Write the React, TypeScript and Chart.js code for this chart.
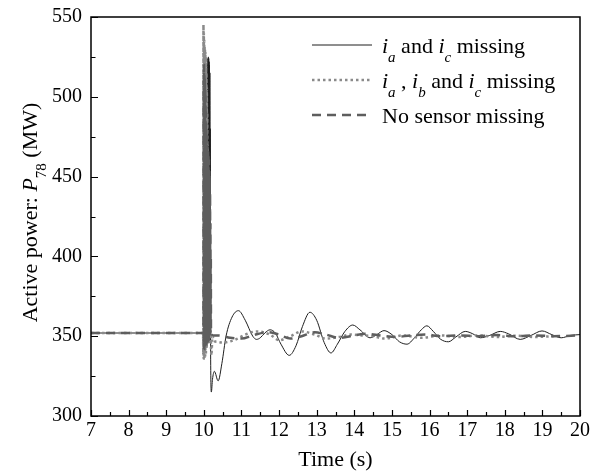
import React, { useEffect, useRef } from 'react';
import { Chart, registerables } from 'chart.js';

Chart.register(...registerables);

const FONT = '"Liberation Serif", "Times New Roman", serif';

// axis ranges / ticks
const xRange = [7, 20];
const xMajorStep = 1;
const xMinorStep = 0.5;
const yRange = [300, 550];
const yMajorStep = 50;
const yMinorStep = 25;

// Series 1: i_a and i_c missing (solid)
const tSolid = [7, 10.05, 10.06, 10.065, 10.07, 10.075, 10.08, 10.085, 10.09, 10.095, 10.1, 10.105, 10.11, 10.115, 10.12, 10.125, 10.13, 10.135, 10.14, 10.145, 10.15, 10.155, 10.16, 10.165, 10.17, 10.18, 10.2, 10.23, 10.28, 10.38, 10.48, 10.59, 10.75, 10.92, 11.1, 11.3, 11.4, 11.5, 11.62, 11.76, 11.9, 12.05, 12.27, 12.45, 12.62, 12.82, 13.0, 13.2, 13.38, 13.55, 13.75, 13.96, 14.15, 14.42, 14.6, 14.79, 15.0, 15.2, 15.4, 15.6, 15.78, 15.93, 16.1, 16.3, 16.5, 16.7, 16.95, 17.15, 17.35, 17.6, 17.88, 18.1, 18.41, 18.7, 18.99, 19.25, 19.5, 19.75, 20];
const pSolid = [352, 352, 380, 350, 470, 355, 500, 360, 515, 380, 520, 400, 524, 420, 525, 440, 524, 450, 522, 455, 520, 450, 515, 440, 480, 340, 315, 323, 328, 322, 333, 350, 362, 366, 360, 350, 348, 349, 352, 354, 352, 345, 338, 344, 356, 365, 360, 346, 339.5, 345, 353, 357, 354, 349, 351, 353.5, 351, 346.5, 345, 349, 354, 356.5, 353, 348, 346.5, 349.5, 353, 351.5, 349, 350.5, 353, 351.5, 348, 350.5, 353.3, 351, 349, 350.5, 351];

// Series 2: i_a, i_b and i_c missing (dotted)
const tDotted = [7, 9.98, 9.985, 9.99, 9.995, 10.0, 10.005, 10.01, 10.015, 10.02, 10.025, 10.03, 10.035, 10.04, 10.045, 10.05, 10.055, 10.06, 10.065, 10.07, 10.075, 10.08, 10.085, 10.09, 10.095, 10.1, 10.11, 10.12, 10.13, 10.15, 10.17, 10.2, 10.23, 10.27, 10.35, 10.5, 10.8, 11.1, 11.4, 11.76, 12.0, 12.3, 12.6, 12.95, 13.25, 13.6, 13.9, 14.2, 14.5, 14.8, 15.3, 15.8, 16.3, 16.8, 17.3, 17.8, 18.3, 18.8, 19.3, 20];
const pDotted = [352, 352, 338, 545, 336, 540, 338, 535, 336, 532, 340, 530, 338, 528, 342, 525, 340, 520, 345, 515, 342, 505, 348, 490, 345, 470, 440, 360, 400, 345, 362, 338, 350, 347, 346.5, 346, 347.5, 351, 353, 351, 347.5, 350, 353, 351, 348.5, 349.5, 351, 350.5, 350, 348.5, 350.5, 349, 350.5, 349.5, 350.5, 349.5, 350.3, 349.5, 350];

// Series 3: No sensor missing (dashed)
const tDashed = [7, 9.99, 9.995, 10.0, 10.005, 10.01, 10.015, 10.02, 10.025, 10.03, 10.035, 10.04, 10.045, 10.05, 10.055, 10.06, 10.065, 10.07, 10.075, 10.08, 10.085, 10.09, 10.095, 10.1, 10.105, 10.11, 10.115, 10.12, 10.125, 10.13, 10.135, 10.14, 10.145, 10.15, 10.155, 10.16, 10.165, 10.17, 10.175, 10.18, 10.185, 10.19, 10.2, 10.25, 10.4, 10.7, 11.0, 11.3, 11.7, 12.0, 12.3, 12.6, 12.95, 13.25, 13.6, 14.0, 14.3, 14.7, 15.1, 15.5, 15.9, 16.3, 16.8, 17.3, 17.8, 18.3, 18.8, 19.3, 20];
const pDashed = [352, 352, 510, 345, 520, 342, 515, 345, 512, 343, 505, 346, 500, 344, 490, 346, 480, 345, 475, 348, 470, 345, 468, 350, 466, 347, 465, 350, 462, 348, 460, 352, 455, 350, 450, 355, 440, 352, 420, 356, 400, 352, 351, 350.5, 350.5, 349, 348.5, 350.5, 352.5, 351, 348.5, 350, 352.5, 351, 349, 350.5, 351.5, 350.5, 349.5, 350.5, 351, 350, 350.5, 350, 350.7, 350, 350.5, 350, 350.5];

type Seg = { t: string; it?: boolean; sub?: boolean };

const seriesNames = ['i_a and i_c missing', 'i_a , i_b and i_c missing', 'No sensor missing'];
const legendRows: Seg[][] = [
  [{ t: 'i', it: true }, { t: 'a', it: true, sub: true }, { t: ' and ' }, { t: 'i', it: true }, { t: 'c', it: true, sub: true }, { t: ' missing' }],
  [{ t: 'i', it: true }, { t: 'a', it: true, sub: true }, { t: ' , ' }, { t: 'i', it: true }, { t: 'b', it: true, sub: true }, { t: ' and ' }, { t: 'i', it: true }, { t: 'c', it: true, sub: true }, { t: ' missing' }],
  [{ t: 'No sensor missing' }],
];
const yTitle: Seg[] = [{ t: 'Active power: ' }, { t: 'P', it: true }, { t: '78', sub: true }, { t: ' (MW)' }];
const xTitle = 'Time (s)';

const styles = [
  { color: '#1e1e1e', width: 1, dash: [] as number[] },
  { color: '#8a8a8a', width: 2.5, dash: [2.5, 3] },
  { color: '#5e5e5e', width: 2.5, dash: [9, 6] },
];

const toPoints = (t: number[], p: number[]) => t.map((x, i) => ({ x, y: p[i] }));

function segFont(s: Seg, size: number) {
  const sz = s.sub ? Math.round(size * 0.66) : size;
  return `${s.it ? 'italic ' : ''}${sz}px ${FONT}`;
}
function richWidth(ctx: CanvasRenderingContext2D, segs: Seg[], size: number) {
  let w = 0;
  for (const s of segs) { ctx.font = segFont(s, size); w += ctx.measureText(s.t).width; }
  return w;
}
function drawRich(ctx: CanvasRenderingContext2D, segs: Seg[], x: number, base: number, size: number) {
  ctx.textBaseline = 'alphabetic';
  ctx.textAlign = 'left';
  let cx = x;
  for (const s of segs) {
    ctx.font = segFont(s, size);
    ctx.fillText(s.t, cx, s.sub ? base + size * 0.4 : base);
    cx += ctx.measureText(s.t).width;
  }
}

const decorPlugin = {
  id: 'decor',
  afterDraw(chart: any) {
    const { ctx, chartArea, scales } = chart;
    const { left, right, top, bottom } = chartArea;
    const xs = scales.x, ys = scales.y;
    ctx.save();
    ctx.strokeStyle = '#000';
    ctx.fillStyle = '#000';
    ctx.lineWidth = 1.5;
    ctx.setLineDash([]);
    ctx.strokeRect(left, top, right - left, bottom - top);
    ctx.lineWidth = 1.2;
    ctx.beginPath();
    for (let v = xRange[0]; v <= xRange[1] + 1e-9; v += xMinorStep) {
      const px = Math.round(xs.getPixelForValue(v)) + 0.5;
      const major = Math.abs(v / xMajorStep - Math.round(v / xMajorStep)) < 1e-6;
      ctx.moveTo(px, bottom);
      ctx.lineTo(px, bottom - (major ? 6 : 4));
    }
    for (let v = yRange[0]; v <= yRange[1] + 1e-9; v += yMinorStep) {
      const py = Math.round(ys.getPixelForValue(v)) + 0.5;
      const major = Math.abs(v / yMajorStep - Math.round(v / yMajorStep)) < 1e-6;
      ctx.moveTo(left, py);
      ctx.lineTo(left + (major ? 7 : 4.5), py);
    }
    ctx.stroke();

    // x title
    ctx.font = `22px ${FONT}`;
    ctx.textAlign = 'center';
    ctx.textBaseline = 'alphabetic';
    ctx.fillText(xTitle, (left + right) / 2, 466);

    // y title
    ctx.save();
    ctx.translate(37, (top + bottom) / 2 - 4);
    ctx.rotate(-Math.PI / 2);
    const w = richWidth(ctx, yTitle, 22);
    drawRich(ctx, yTitle, -w / 2, 0, 22);
    ctx.restore();

    // legend
    const rowsY = [45, 80, 115];
    for (let i = 0; i < legendRows.length; i++) {
      const st = styles[i];
      ctx.strokeStyle = st.color;
      ctx.lineWidth = st.width;
      ctx.setLineDash(st.dash);
      ctx.beginPath();
      ctx.moveTo(312, rowsY[i]);
      ctx.lineTo(372, rowsY[i]);
      ctx.stroke();
      ctx.setLineDash([]);
      ctx.fillStyle = '#000';
      drawRich(ctx, legendRows[i], 382, rowsY[i] + 8, 22);
    }
    ctx.restore();
  },
};

export default function App() {
  const ref = useRef<HTMLCanvasElement>(null);
  useEffect(() => {
    document.body.style.margin = '0';
    const canvas = ref.current!;
    const mk = (i: number, data: any) => ({
      label: seriesNames[i],
      data,
      borderColor: styles[i].color,
      borderWidth: styles[i].width,
      borderDash: styles[i].dash,
      pointRadius: 0,
      fill: false,
      cubicInterpolationMode: 'monotone' as const,
    });
    const chart = new Chart(canvas, {
      type: 'line',
      data: {
        datasets: [
          mk(2, toPoints(tDashed, pDashed)),
          mk(1, toPoints(tDotted, pDotted)),
          mk(0, toPoints(tSolid, pSolid)),
        ],
      },
      options: {
        animation: false,
        responsive: false,
        devicePixelRatio: 1,
        layout: { padding: { top: 17, right: 20, left: 0, bottom: 0 } },
        plugins: { legend: { display: false }, tooltip: { enabled: false } },
        scales: {
          x: {
            type: 'linear',
            min: xRange[0],
            max: xRange[1],
            ticks: { stepSize: xMajorStep, autoSkip: false, maxRotation: 0, padding: -5, color: '#000', font: { family: FONT, size: 20 } },
            grid: { display: false },
            border: { display: false },
            afterFit: (s: any) => { s.height = 58; },
          },
          y: {
            type: 'linear',
            min: yRange[0],
            max: yRange[1],
            ticks: { stepSize: yMajorStep, padding: 1, color: '#000', font: { family: FONT, size: 20 } },
            grid: { display: false },
            border: { display: false },
            afterFit: (s: any) => { s.width = 91; },
          },
        },
      },
      plugins: [decorPlugin],
    });
    return () => chart.destroy();
  }, []);
  return <canvas ref={ref} width={600} height={474} style={{ display: 'block' }} />;
}
